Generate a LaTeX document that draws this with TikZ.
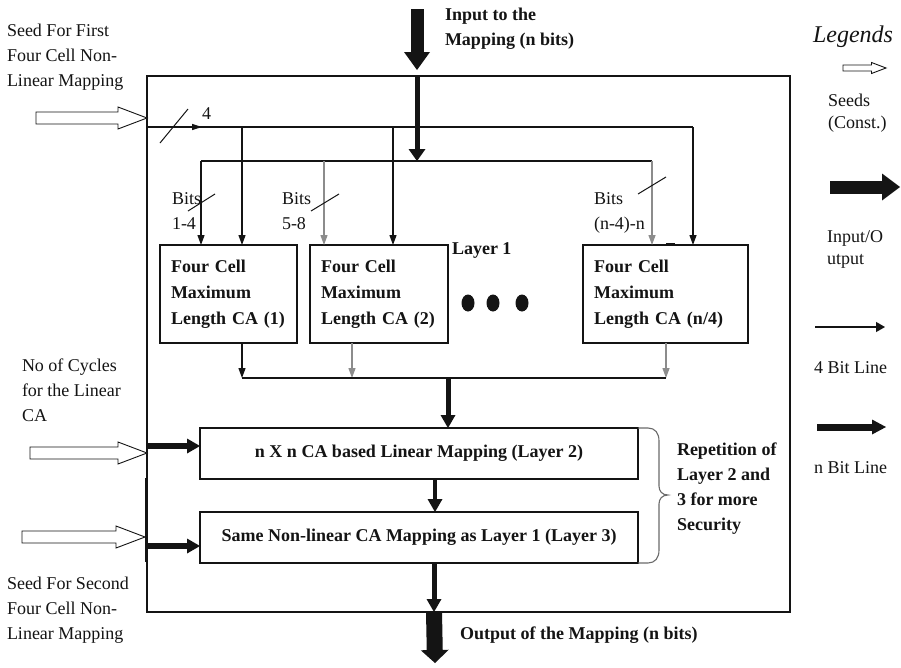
\documentclass[tikz,border=0pt]{standalone}
\usepackage{fontspec}
\setmainfont{Liberation Serif}
\usetikzlibrary{arrows.meta,calc}

\definecolor{ink}{gray}{0.08}
\definecolor{faint}{gray}{0.55}
\definecolor{bracegray}{gray}{0.42}

\tikzset{
  pics/seedarrow/.style={code={
    \draw[line width=0.9pt, draw=ink, fill=white]
      (0,0) -- (-29,-11) -- (-29,-6) -- (-29-#1,-6) -- (-29-#1,6)
      -- (-29,6) -- (-29,11) -- cycle;
  }}
}

\begin{document}
\begin{tikzpicture}[x=1pt, y=-1pt,
  every node/.style={inner sep=0pt, outer sep=0pt, text=ink},
  txt/.style={font=\fontsize{18}{25}\selectfont, align=left, anchor=north west},
  btxt/.style={txt, font=\fontsize{18}{25}\selectfont\bfseries},
  legtxt/.style={txt, font=\fontsize{18}{22}\selectfont},
  wire/.style={line width=1.2pt, draw=ink},
  feed/.style={wire, -{Triangle[width=7pt,length=10pt]}},
  nbus/.style={line width=5pt, draw=ink, -{Triangle[width=15pt,length=13pt,line width=0pt]}},
  cabox/.style={draw=ink, line width=1.1pt, anchor=north west, minimum height=98pt,
    align=left, inner xsep=11pt, font=\fontsize{18}{26}\selectfont\bfseries},
  layerbox/.style={draw=ink, line width=1.1pt, anchor=north west, minimum width=438pt,
    minimum height=51pt, font=\fontsize{18}{22}\selectfont\bfseries},
  stub/.style={line width=2.6pt, draw=ink}
]
\fill[white] (0,0) rectangle (901,667);
\useasboundingbox (0,0) rectangle (901,667);

% ---------- outer frame ----------
\node[draw=ink, line width=1.3pt, anchor=north west, minimum width=643pt,
      minimum height=536pt] (frame) at (147,76) {};

% ---------- layer 1 cells ----------
\node[cabox, text width=115pt] (ca1) at (160,245) {Four Cell\\Maximum\\Length CA (1)};
\node[cabox, text width=116pt] (ca2) at (310,245) {Four Cell\\Maximum\\Length CA (2)};
\node[cabox, text width=143pt] (ca3) at (583,245) {Four Cell\\Maximum\\Length CA (n/4)};
\node[btxt, anchor=base west] (l1txt) at (452,254) {Layer 1};
\foreach \cx in {468,493,522} \fill[ink] (\cx,303) ellipse [x radius=6.5, y radius=8.5];

% ---------- layers 2 and 3 ----------
\node[layerbox] (l2) at (200,428) {n X n CA based Linear Mapping (Layer 2)};
\node[layerbox] (l3) at (200,512) {Same Non-linear CA Mapping as Layer 1 (Layer 3)};

% ---------- input of the mapping ----------
\coordinate (inTop) at (417,9);
\coordinate (inTip) at (417,70);
\draw[line width=13pt, draw=ink, -{Triangle[width=26pt,length=18pt,line width=0pt]}] (inTop) -- (inTip);
\node[btxt] (intxt) at (445,7.8) {Input to the\\Mapping (n bits)};

\coordinate (inJoin) at (417,76);
\coordinate (busL) at (201,161);
\coordinate (busM) at (324,161);
\coordinate (busR) at (652,161);
\draw[wire] (busL) -- (busR);
\draw[line width=5pt, draw=ink, -{Triangle[width=17pt,length=12pt,line width=0pt]}] (inJoin) -- (inJoin |- busR);
\draw[feed] (busL) -- (busL |- ca1.north);
\draw[feed, draw=faint] (busM) -- (busM |- ca2.north);
\draw[feed, draw=faint] (busR) -- (busR |- ca3.north);

% ---------- first seed ----------
\pic at (147,118) {seedarrow=82};
\node[txt] (seed1txt) at (7,24.4) {Seed For First\\Four Cell Non-\\Linear Mapping};
\coordinate (seedIn) at (147,127);
\coordinate (seedMark) at (202,127);
\coordinate (seedA) at (242,127);
\coordinate (seedB) at (393,127);
\coordinate (seedR) at (693,127);
\draw[wire] (seedIn) -- (seedR);
\draw[wire, -{Triangle[width=6pt,length=10pt]}] (seedIn) -- (seedMark);
\draw[feed] (seedA) -- (seedA |- ca1.north);
\draw[feed] (seedB) -- (seedB |- ca2.north);
\draw[feed] (seedR) -- (seedR |- ca3.north);
\draw[line width=1pt, draw=ink] (160,143) -- (188,109);
\node[txt, anchor=base west] (fourtxt) at (202,119) {4};

% ---------- bit group labels ----------
\node[txt] (bits1) at (172,192.7) {Bits\\1-4};
\node[txt] (bits2) at (282,192.7) {Bits\\5-8};
\node[txt] (bits3) at (594,192.7) {Bits\\(n-4)-n};
\draw[line width=1pt, draw=ink] (188,211) -- (215,194);
\draw[line width=1pt, draw=ink] (311,211) -- (339,194);
\draw[line width=1pt, draw=ink] (638,194) -- (666,177);

% small marks on the edges
\draw[stub] (217,245) -- (227,245);
\draw[stub] (666,244) -- (675,244);
\draw[stub] (147,168) -- (147,175);

% ---------- collecting bus ----------
\coordinate (dropA) at (242,378);
\coordinate (dropB) at (352,378);
\coordinate (dropC) at (666,378);
\coordinate (join2) at (448,378);
\draw[feed] (ca1.south -| dropA) -- (dropA);
\draw[feed, draw=faint] (ca2.south -| dropB) -- (dropB);
\draw[feed, draw=faint] (ca3.south -| dropC) -- (dropC);
\draw[wire] (dropA) -- (dropC);
\draw[nbus] (join2) -- (join2 |- l2.north);
\draw[nbus, line width=4.5pt] ([xshift=16pt]l2.south) -- ([xshift=16pt]l3.north);

% ---------- cycles and second seed ----------
\node[txt] (cyctxt) at (22,358.4) {No of Cycles\\for the Linear\\CA};
\pic at (147,453) {seedarrow=88};
\coordinate (cycIn) at (147,446);
\draw[nbus, line width=5.5pt] (cycIn) -- (cycIn -| l2.west);

\node[txt] (seed2txt) at (7,576.7) {Seed For Second\\Four Cell Non-\\Linear Mapping};
\pic at (145,537) {seedarrow=94};
\coordinate (seed2Top) at (146,478);
\coordinate (seed2Bot) at (146,562);
\draw[line width=3pt, draw=ink] (seed2Top) -- (seed2Bot);
\coordinate (seed2In) at (146,546);
\draw[nbus, line width=5.5pt] (seed2In) -- (seed2In -| l3.west);

% ---------- repetition brace ----------
\draw[bracegray, line width=1.1pt]
  (l2.north east) -- (648,428) .. controls (655,428) and (659,433) .. (659,441)
  -- (659,486) .. controls (659,491) and (662,495) .. (668,495)
  .. controls (662,495) and (659,499) .. (659,504)
  -- (659,550) .. controls (659,558) and (655,563) .. (648,563) -- (l3.south east);
\node[btxt] (reptxt) at (677,442.8) {Repetition of\\Layer 2 and\\3 for more\\Security};

% ---------- output ----------
\coordinate (outA) at ([xshift=15pt]l3.south);
\coordinate (outB) at (outA |- frame.south);
\draw[nbus] (outA) -- (outB);
\coordinate (outTip) at (435,663);
\draw[line width=16pt, draw=ink, -{Triangle[width=28pt,length=13pt,line width=0pt]}] (outB) -- (outTip);
\node[btxt, anchor=base west] (outtxt) at (460,639) {Output of the Mapping (n bits)};

% ---------- legend ----------
\node[txt, font=\fontsize{24}{28}\selectfont\itshape] (legtitle) at (813,25.6) {Legends};
\pic[scale=0.5] at (886,68) {seedarrow=57};
\node[legtxt] (legseed) at (828,93.7) {Seeds\\(Const.)};
\coordinate (legIoA) at (830,187);
\coordinate (legIoB) at (900,187);
\draw[line width=13pt, draw=ink, -{Triangle[width=27pt,length=18pt,line width=0pt]}] (legIoA) -- (legIoB);
\node[legtxt] (legio) at (827,230.7) {Input/O\\utput};
\coordinate (legFourA) at (815,327);
\coordinate (legFourB) at (885,327);
\draw[wire, -{Triangle[width=10pt,length=9pt]}] (legFourA) -- (legFourB);
\node[txt, anchor=base west] (legfour) at (814,373) {4 Bit Line};
\coordinate (legNA) at (817,427);
\coordinate (legNB) at (886,427);
\draw[line width=7pt, draw=ink, -{Triangle[width=15pt,length=14pt,line width=0pt]}] (legNA) -- (legNB);
\node[txt, anchor=base west] (legn) at (814,473) {n Bit Line};
\end{tikzpicture}
\end{document}
